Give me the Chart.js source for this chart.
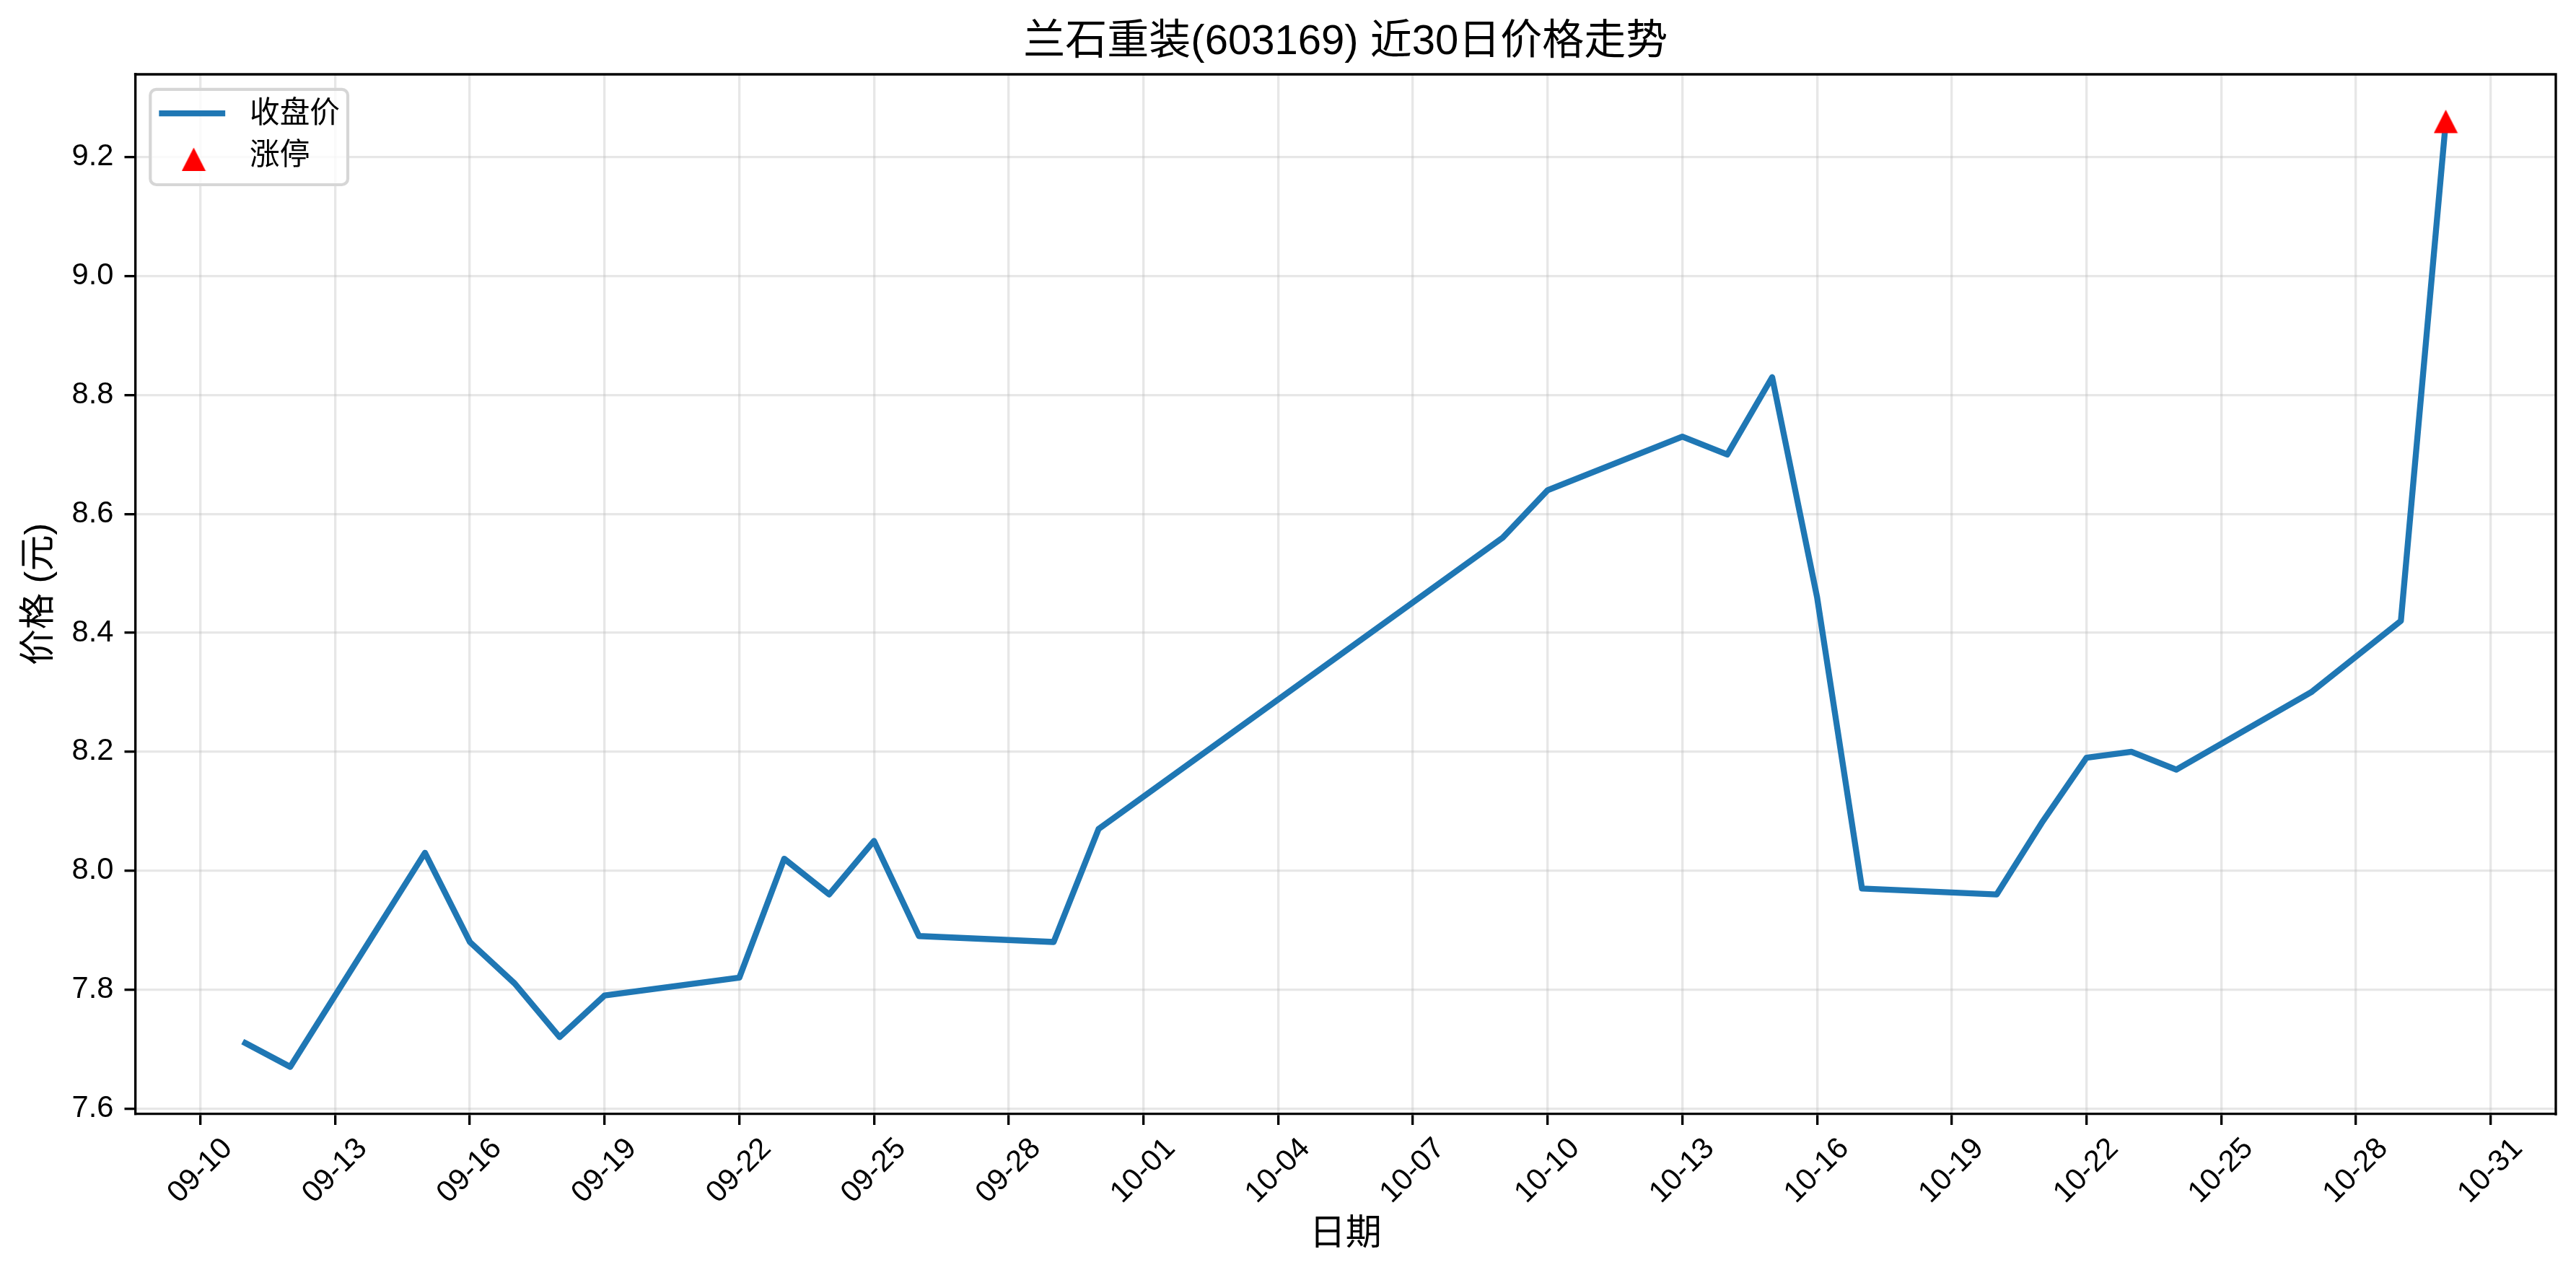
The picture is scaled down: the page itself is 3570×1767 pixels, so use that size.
<!DOCTYPE html>
<html>
<head>
<meta charset="utf-8">
<script src="https://cdn.jsdelivr.net/npm/chart.js@4.4.1/dist/chart.umd.min.js"></script>
<style>
html,body{margin:0;padding:0;background:#fff;overflow:hidden}
canvas{display:block}
</style>
</head>
<body>
<canvas id="c" width="3570" height="1767" style="width:3570px;height:1767px"></canvas>
<script>
// ---------------- data ----------------
const YEAR = 2025;
const dates = ['09-11','09-12','09-15','09-16','09-17','09-18','09-19','09-22','09-23','09-24',
               '09-25','09-26','09-29','09-30','10-09','10-10','10-13','10-14','10-15','10-16',
               '10-17','10-20','10-21','10-22','10-23','10-24','10-27','10-28','10-29','10-30'];
const closes = [7.71,7.67,8.03,7.88,7.81,7.72,7.79,7.82,8.02,7.96,
                8.05,7.89,7.88,8.07,8.56,8.64,8.73,8.70,8.83,8.46,
                7.97,7.96,8.08,8.19,8.20,8.17,8.30,8.36,8.42,9.26];
const limitUpDates = ['10-30'];
const limitUpPrices = [9.26];
const xTickLabels = ['09-10','09-13','09-16','09-19','09-22','09-25','09-28','10-01','10-04',
                     '10-07','10-10','10-13','10-16','10-19','10-22','10-25','10-28','10-31'];
const yTickValues = [7.6,7.8,8.0,8.2,8.4,8.6,8.8,9.0,9.2];
const seriesLabels = ['收盘价','涨停'];
const chartTitle = '兰石重装(603169) 近30日价格走势';
const xTitle = '日期';
const yTitle = '价格 (元)';

// ---------------- helpers ----------------
const dayOf = s => { const [m, d] = s.split('-').map(Number); return Date.UTC(YEAR, m - 1, d) / 86400000; };
const labelOf = v => { const dt = new Date(Math.round(v) * 86400000);
  return String(dt.getUTCMonth() + 1).padStart(2, '0') + '-' + String(dt.getUTCDate()).padStart(2, '0'); };

const xs = dates.map(dayOf);
const xFirst = Math.min(...xs), xLast = Math.max(...xs);
const xPad = (xLast - xFirst) * 0.05;
const allY = closes.concat(limitUpPrices);
const yLo = Math.min(...allY), yHi = Math.max(...allY);
const yPad = (yHi - yLo) * 0.05;

const FONT = "'Liberation Sans','Noto Sans CJK SC','Noto Sans CJK JP',sans-serif";
Chart.defaults.font.family = FONT;
Chart.defaults.color = '#000';

// red triangle marker (matplotlib '^')
const tri = document.createElement('canvas');
tri.width = 34; tri.height = 34;
(() => { const t = tri.getContext('2d'); t.fillStyle = '#ff0000';
  t.beginPath(); t.moveTo(17, 0.6); t.lineTo(33.6, 33); t.lineTo(0.4, 33); t.closePath(); t.fill(); })();

const LW = 3.33;
const gridCommon = { color: 'rgba(176,176,176,0.3)', lineWidth: LW, tickLength: 15, tickColor: '#000', tickWidth: LW, drawTicks: true };
const borderCommon = { display: true, color: '#000', width: LW };

const framePlugin = {
  id: 'frameAndLegend',
  afterDatasetsDraw(chart) {
    const { ctx, chartArea: a } = chart;
    ctx.save();
    ctx.strokeStyle = '#000'; ctx.lineWidth = LW; ctx.lineCap = 'square';
    ctx.beginPath(); ctx.moveTo(a.left, a.top); ctx.lineTo(a.right, a.top); ctx.lineTo(a.right, a.bottom); ctx.stroke();
    // legend
    const x0 = a.left + 20.8, y0 = a.top + 20.8, w = 273.7, h = 132.2;
    ctx.beginPath();
    if (ctx.roundRect) ctx.roundRect(x0, y0, w, h, 8.3); else ctx.rect(x0, y0, w, h);
    ctx.fillStyle = 'rgba(255,255,255,0.8)'; ctx.fill();
    ctx.strokeStyle = '#d6d6d6'; ctx.lineWidth = 4.2; ctx.stroke();
    const ds = chart.data.datasets;
    // line handle
    ctx.strokeStyle = ds[0].borderColor; ctx.lineWidth = ds[0].borderWidth; ctx.lineCap = 'square';
    ctx.beginPath(); ctx.moveTo(x0 + 16.2, y0 + 33.3); ctx.lineTo(x0 + 99.7, y0 + 33.3); ctx.stroke();
    // marker handle
    ctx.drawImage(tri, x0 + 60.2 - tri.width / 2, y0 + 97.2 - tri.height / 2);
    ctx.fillStyle = '#000'; ctx.font = '41.7px ' + FONT; ctx.textAlign = 'left'; ctx.textBaseline = 'middle';
    ctx.fillText(ds[0].label, x0 + 137.7, y0 + 34.5);
    ctx.fillText(ds[1].label, x0 + 137.7, y0 + 92.5);
    ctx.restore();
  }
};

new Chart(document.getElementById('c'), {
  data: {
    datasets: [
      { type: 'line', label: seriesLabels[0],
        data: dates.map((d, i) => ({ x: dayOf(d), y: closes[i] })),
        borderColor: '#1f77b4', backgroundColor: '#1f77b4', borderWidth: 8.33,
        pointRadius: 0, tension: 0, fill: false, borderJoinStyle: 'round', borderCapStyle: 'square', order: 2 },
      { type: 'scatter', label: seriesLabels[1],
        data: limitUpDates.map((d, i) => ({ x: dayOf(d), y: limitUpPrices[i] })),
        pointStyle: tri, pointRadius: 17, backgroundColor: '#ff0000', borderColor: '#ff0000', order: 1 }
    ]
  },
  options: {
    responsive: false, animation: false, devicePixelRatio: 1,
    layout: { padding: { left: 0, top: 0, right: 28, bottom: 0 } },
    plugins: {
      legend: { display: false },
      tooltip: { enabled: false },
      title: { display: true, text: chartTitle, fullSize: false, color: '#000',
               font: { size: 58, weight: 'normal', family: FONT }, padding: { top: 24, bottom: 9.4 } }
    },
    scales: {
      x: {
        type: 'linear', position: 'bottom', min: xFirst - xPad, max: xLast + xPad,
        afterBuildTicks: s => { s.ticks = xTickLabels.map(l => ({ value: dayOf(l) })); },
        afterFit: s => { s.height = 223; },
        ticks: { autoSkip: false, maxRotation: 45, minRotation: 45, labelOffset: 37.7, padding: 8.6,
                 color: '#000', font: { size: 41.7, family: FONT }, callback: v => labelOf(v) },
        grid: gridCommon, border: borderCommon,
        title: { display: true, text: xTitle, color: '#000', font: { size: 50, family: FONT }, padding: { top: 0, bottom: 26 } }
      },
      y: {
        type: 'linear', position: 'left', min: yLo - yPad, max: yHi + yPad,
        afterBuildTicks: s => { s.ticks = yTickValues.map(v => ({ value: v })); },
        afterFit: s => { s.width = 187.5; },
        ticks: { padding: 15, color: '#000', font: { size: 41.7, family: FONT }, callback: v => Number(v).toFixed(1) },
        grid: gridCommon, border: borderCommon,
        title: { display: true, text: yTitle, color: '#000', font: { size: 50, family: FONT }, padding: { top: 25, bottom: 0 } }
      }
    }
  },
  plugins: [framePlugin]
});
</script>
</body>
</html>
